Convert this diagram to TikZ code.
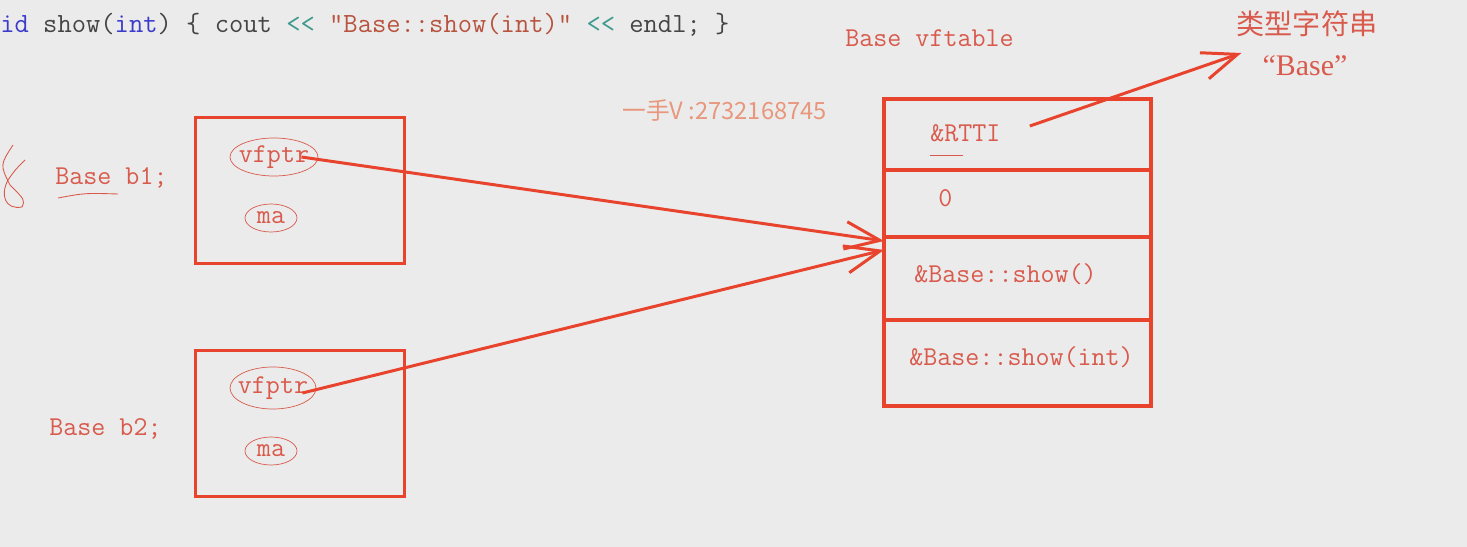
\documentclass[tikz,border=0pt]{standalone}
\usepackage{fontspec}
\setmainfont{Liberation Serif}
\newfontfamily\cjkfont{Noto Sans CJK SC}
\usetikzlibrary{shapes.geometric,arrows.meta,positioning}
\definecolor{boardbg}{HTML}{EBEBEB}
\definecolor{penred}{HTML}{E8432D}
\definecolor{inkred}{HTML}{D95A4C}
\definecolor{markorange}{HTML}{E8977C}
\definecolor{kwblue}{HTML}{3B3BCC}
\definecolor{codegrey}{HTML}{454545}
\definecolor{optteal}{HTML}{3E9A8C}
\definecolor{strbrown}{HTML}{B8533F}
\begin{document}
\begin{tikzpicture}[x=0.02cm,y=-0.02cm,
    txt/.style={text=inkred,font=\ttfamily\fontsize{15.5}{18}\selectfont,inner sep=0pt},
    obj/.style={draw=penred,line width=1.8pt,minimum width=4.18cm,minimum height=2.92cm,anchor=north west,inner sep=0pt},
    cell/.style={draw=penred,line width=1.8pt,minimum width=5.34cm,outer sep=0pt,inner sep=0pt},
    ring/.style={draw=inkred,line width=0.4pt},
    ptr/.style={draw=penred,line width=1.7pt,-{Straight Barb[length=0.7cm,width=0.55cm]}}]
    % Board
    \fill[boardbg] (0,0) rectangle (1467,547);
    \useasboundingbox (0,0) rectangle (1467,547);
    % Code line
    \node[anchor=west,inner sep=0pt,text=codegrey,font=\ttfamily\fontsize{15.8}{18}\selectfont] (code) at (0,25)
        {\textcolor{kwblue}{id} show(\textcolor{kwblue}{int}) \{ cout \textcolor{optteal}{<<} \textcolor{strbrown}{"Base::show(int)"} \textcolor{optteal}{<<} endl; \}};
    \node[anchor=west,inner sep=0pt,text=markorange,font=\cjkfont\fontsize{13.5}{16}\selectfont] (mark) at (622,110) {一手V :2732168745};
    % Objects
    \node[obj] (b1) at (194,116) {};
    \node[obj] (b2) at (194,349) {};
    \node[txt] (vf1) at (274,157) {vfptr};
    \node[txt] (ma1) at (271,218) {ma};
    \node[txt] (vf2) at (273,388) {vfptr};
    \node[txt] (ma2) at (271,451) {ma};
    \draw[ring] (vf1.center) ellipse [x radius=44, y radius=19];
    \draw[ring] (ma1.center) ellipse [x radius=26, y radius=14];
    \draw[ring] (vf2.center) ellipse [x radius=43, y radius=21];
    \draw[ring] (ma2.center) ellipse [x radius=26, y radius=14];
    \node[txt,anchor=west] (b1name) at (55,178) {Base b1;};
    \node[txt,anchor=west] (b2name) at (49,429) {Base b2;};
    \draw[inkred,line width=0.5pt] (58,198) .. controls (85,193) .. (118,194);
    \draw[inkred,line width=0.5pt] (13,145) .. controls (0,165) .. (10,185)
        .. controls (25,200) .. (22,207) .. controls (5,210) and (0,195) .. (8,180)
        .. controls (15,170) .. (25,160);
    % vftable
    \node[txt,anchor=west] (vtitle) at (845,38) {Base vftable};
    \node[cell,minimum height=1.42cm,anchor=north west] (rtti) at (884,99) {};
    \node[cell,minimum height=1.34cm,below=0pt of rtti] (zero) {};
    \node[cell,minimum height=1.66cm,below=0pt of zero] (show) {};
    \node[cell,minimum height=1.72cm,below=0pt of show] (showint) {};
    \node[txt,anchor=west] (rttitxt) at (930,133) {\&RTTI};
    \draw[inkred,line width=0.5pt] (930,155) -- (963,155);
    \node[txt,anchor=west] (zerotxt) at (938,198) {0};
    \node[txt,anchor=west] (showtxt) at (914,274) {\&Base::show()};
    \node[txt,anchor=west] (showinttxt) at (909,357) {\&Base::show(int)};
    % RTTI string
    \node[text=inkred,font=\cjkfont\fontsize{16}{19}\selectfont,inner sep=0pt] (typestr) at (1307,24) {类型字符串};
    \node[text=inkred,font=\rmfamily\fontsize{17}{20}\selectfont,inner sep=0pt] (basestr) at (1305,66) {“Base”};
    % Pointers
    \draw[ptr] ([xshift=-0.16cm]vf1.east) -- ([yshift=-0.08cm]show.north west);
    \draw[ptr] ([xshift=-0.12cm,yshift=-0.1cm]vf2.east) -- ([yshift=-0.26cm]show.north west);
    \draw[ptr] ([xshift=0.58cm,yshift=0.14cm]rttitxt.east) -- ([xshift=-0.42cm,yshift=0.26cm]basestr.west);
\end{tikzpicture}
\end{document}
